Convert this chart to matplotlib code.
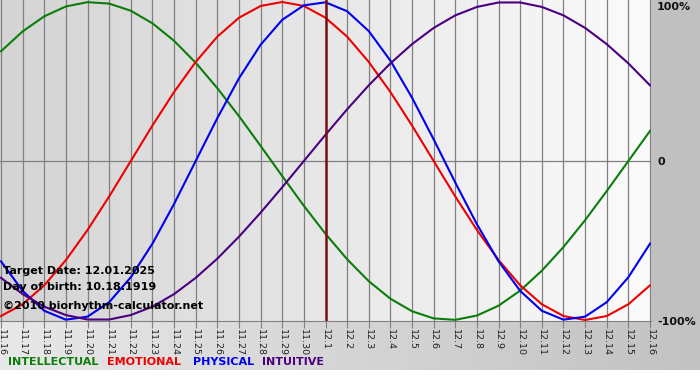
import numpy as np
import matplotlib.pyplot as plt

# dates on the x axis (11.16 .. 12.16)
days = ['11.16', '11.17', '11.18', '11.19', '11.20', '11.21', '11.22', '11.23',
        '11.24', '11.25', '11.26', '11.27', '11.28', '11.29', '11.30', '12.1',
        '12.2', '12.3', '12.4', '12.5', '12.6', '12.7', '12.8', '12.9', '12.10',
        '12.11', '12.12', '12.13', '12.14', '12.15', '12.16']
target_idx = 15

# cycle values per day (fraction of 100%)
intellectual = [0.690, 0.815, 0.910, 0.972, 0.999, 0.990, 0.945, 0.866, 0.756, 0.618,
                0.458, 0.282, 0.095, -0.095, -0.282, -0.458, -0.618, -0.756, -0.866,
                -0.945, -0.990, -0.999, -0.972, -0.910, -0.815, -0.690, -0.541, -0.372,
                -0.189, 0.0, 0.189]
emotional = [-0.975, -0.901, -0.782, -0.623, -0.434, -0.223, 0.0, 0.223, 0.434, 0.623,
             0.782, 0.901, 0.975, 1.0, 0.975, 0.901, 0.782, 0.623, 0.434, 0.223, 0.0,
             -0.223, -0.434, -0.623, -0.782, -0.901, -0.975, -1.0, -0.975, -0.901, -0.782]
physical = [-0.631, -0.817, -0.942, -0.998, -0.979, -0.888, -0.731, -0.520, -0.270, 0.0,
            0.270, 0.520, 0.731, 0.888, 0.979, 0.998, 0.942, 0.817, 0.631, 0.398, 0.136,
            -0.136, -0.398, -0.631, -0.817, -0.942, -0.998, -0.979, -0.888, -0.731, -0.520]
intuitive = [-0.735, -0.837, -0.916, -0.969, -0.997, -0.997, -0.969, -0.916, -0.837, -0.735,
             -0.614, -0.476, -0.325, -0.165, 0.0, 0.165, 0.325, 0.476, 0.614, 0.735, 0.837,
             0.916, 0.969, 0.997, 0.997, 0.969, 0.916, 0.837, 0.735, 0.614, 0.476]

series = [('INTELLECTUAL', intellectual, '#0a7d0a'),
          ('EMOTIONAL', emotional, '#ee0000'),
          ('PHYSICAL', physical, '#0000ee'),
          ('INTUITIVE', intuitive, '#4b0082')]

W, H = 700, 380
fig = plt.figure(figsize=(7, 3.8), dpi=100)

# background: bottom band gradient + right margin
bg = fig.add_axes([0, 0, 1, 1], zorder=0)
bg.set_xlim(0, W)
bg.set_ylim(H, 0)
bg.axis('off')
grad = np.linspace(0, 1, 256)[None, :]
bg.imshow(grad, cmap=plt.matplotlib.colors.LinearSegmentedColormap.from_list('b', ['#e8e8e8', '#c2c2c2']),
          extent=[0, W, 370, 321], aspect='auto')
bg.add_patch(plt.Rectangle((651, 0), W - 651, 321, color='#c0c0c0', lw=0))

# main plot area
ax = fig.add_axes([0, 59 / H, 651 / W, 321 / H], zorder=1)
ax.set_facecolor('none')
x = np.arange(len(days))
x0, x1 = -1 / 21.63, 30 + 1 / 21.63
y0, y1 = -1 - 1 / 159, 1 + 2 / 159
ax.imshow(grad, cmap=plt.matplotlib.colors.LinearSegmentedColormap.from_list('p', ['#d4d4d4', '#fbfbfb']),
          extent=[x0, x1, y0, y1], aspect='auto', zorder=0)
ax.set_xlim(x0, x1)
ax.set_ylim(y0, y1)

for xi in x:
    ax.axvline(xi, color='#808080', lw=0.9, zorder=1)
ax.axhline(0, color='#808080', lw=0.9, zorder=1)
ax.axvline(target_idx, color='#7a1010', lw=1.8, zorder=3)

for name, vals, col in series:
    ax.plot(x, vals, color=col, lw=1.5, zorder=2)

for s in ['top', 'left', 'right']:
    ax.spines[s].set_visible(False)
ax.spines['bottom'].set_color('#808080')
ax.set_yticks([])
ax.set_xticks(x)
ax.set_xticklabels(days, rotation=270, fontsize=6.8, color='#202020')
ax.tick_params(axis='x', length=5, color='#808080', pad=1)

# info text
info = ['Target Date: 12.01.2025', 'Day of birth: 10.18.1919', '\u00a92010 biorhythm-calculator.net']
for txt, yp in zip(info, [271, 287, 306]):
    fig.text(3 / W, 1 - yp / H, txt, fontsize=8, fontweight='bold', color='black',
             va='center', ha='left', zorder=5)

# right scale labels
for txt, yp in zip(['100%', '0', '-100%'], [7, 162, 322]):
    fig.text(657 / W, 1 - yp / H, txt, fontsize=8, fontweight='bold', color='#111111',
             va='center', ha='left')

# legend
for (name, vals, col), xp in zip(series, [8, 107, 193, 262]):
    fig.text(xp / W, 1 - 362 / H, name, fontsize=8, fontweight='bold', color=col,
             va='center', ha='left')

fig.savefig('out.png', dpi=100)
